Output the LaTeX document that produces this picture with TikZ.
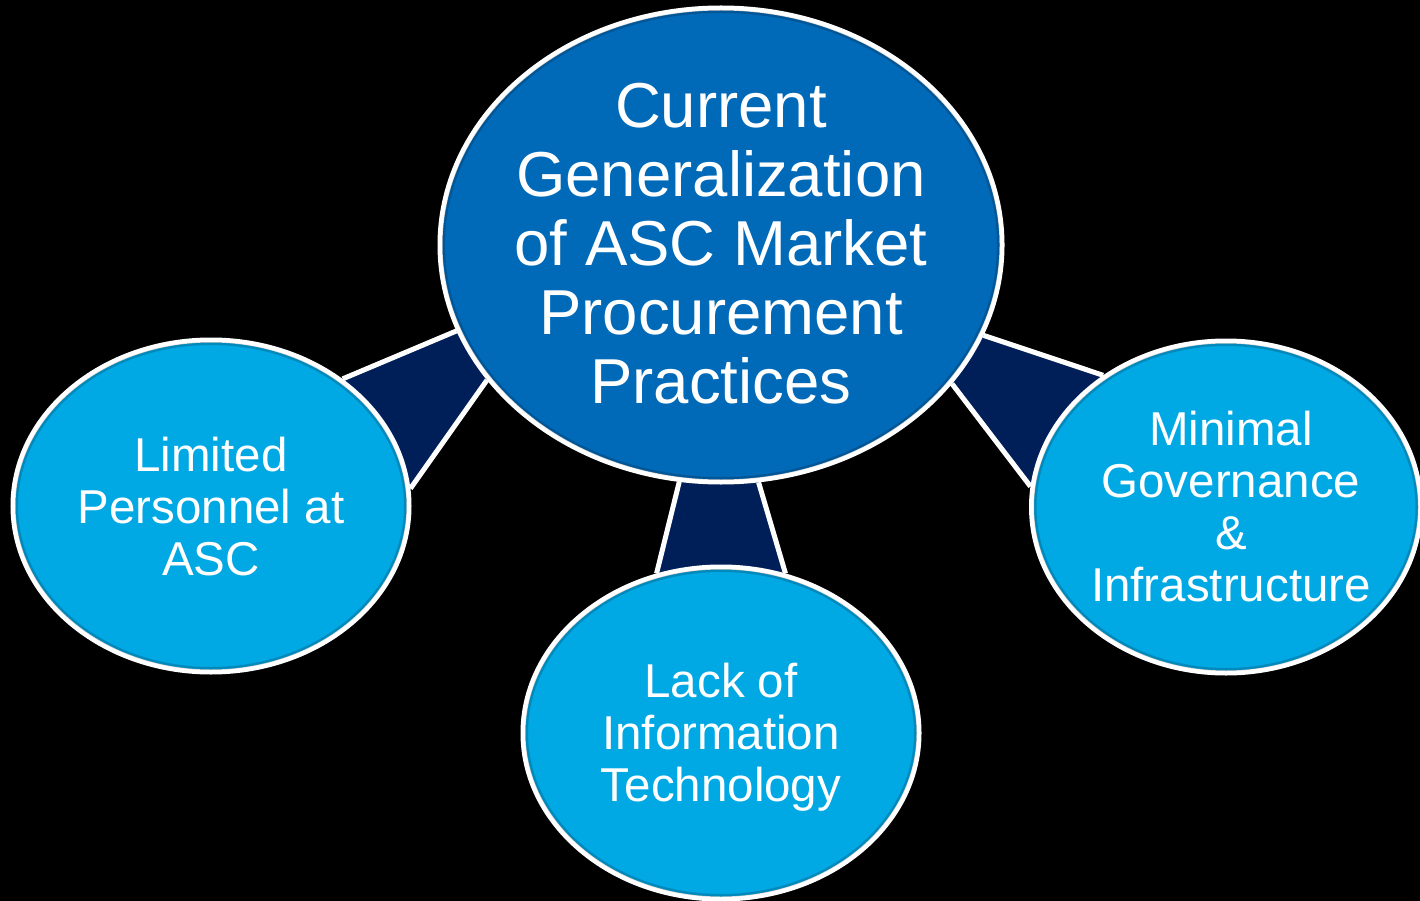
\documentclass[tikz,border=0pt]{standalone}
\usepackage{fontspec}
\setmainfont{Liberation Sans}
\usetikzlibrary{shapes.geometric}
\pgfdeclarelayer{bg}
\pgfsetlayers{bg,main}
\definecolor{centerblue}{HTML}{006AB8}
\definecolor{childblue}{HTML}{00A8E4}
\definecolor{connnavy}{HTML}{001E58}
\tikzset{
  bubble/.style={ellipse, draw=white, line width=5pt, inner sep=0pt},
  centerbubble/.style={bubble, fill=centerblue, minimum width=562pt, minimum height=474pt},
  childbubble/.style={bubble, fill=childblue, minimum width=396pt, minimum height=332pt},
  rim/.style={ellipse, draw=black, inner sep=0pt, line width=3pt, draw opacity=0.18},
  centertext/.style={text=white, align=center, inner sep=0pt, font=\fontsize{63.5}{69}\selectfont},
  childtext/.style={text=white, align=center, inner sep=0pt, font=\fontsize{47.5}{52}\selectfont},
  connfill/.style={fill=connnavy},
  connedge/.style={draw=white, line width=5pt}
}
\begin{document}
\begin{tikzpicture}[x=1pt,y=-1pt]
\useasboundingbox (0,0) rectangle (1420,901);
\begin{pgfonlayer}{bg}
\fill[black] (0,0) rectangle (1420,901);
\end{pgfonlayer}
% bubbles
\node[centerbubble] (c) at (721,245) {};
\node[childbubble] (l) at (211,506) {};
\node[childbubble] (b) at (721,733) {};
\node[childbubble, minimum width=389pt] (r) at (1226,507) {};
% subtle inner rims
\node[rim, minimum width=555pt, minimum height=467pt] (cr) at (c.center) {};
\node[rim, minimum width=389pt, minimum height=325pt] (lr) at (l.center) {};
\node[rim, minimum width=389pt, minimum height=325pt] (br) at (b.center) {};
\node[rim, minimum width=382pt, minimum height=325pt] (rr) at (r.center) {};
% texts
\node[centertext] (ct) at (721,244) {Current\\Generalization\\of ASC Market\\Procurement\\Practices};
\node[childtext] (lt) at (211,507) {Limited\\Personnel at\\ASC};
\node[childtext] (bt) at (721,737) {Lack of\\Information\\Technology};
\node[childtext] (rt) at (1231,507) {Minimal\\Governance\\\&\\Infrastructure};
% connectors
\begin{pgfonlayer}{bg}
\fill[connfill] (c.198.8) -- (l.44.8) -- (l.5.5) -- (c.210.9) -- cycle;
\draw[connedge] (c.198.8) -- (l.44.8);
\draw[connedge] (c.210.9) -- (l.5.5);
\fill[connfill] (c.260.4) -- (b.112) -- (b.68) -- (c.279.1) -- cycle;
\draw[connedge] (c.260.4) -- (b.112);
\draw[connedge] (c.279.1) -- (b.68);
\fill[connfill] (c.341.2) -- (r.133.9) -- (r.174.1) -- (c.329.1) -- cycle;
\draw[connedge] (c.341.2) -- (r.133.9);
\draw[connedge] (c.329.1) -- (r.174.1);
\end{pgfonlayer}
\end{tikzpicture}
\end{document}
